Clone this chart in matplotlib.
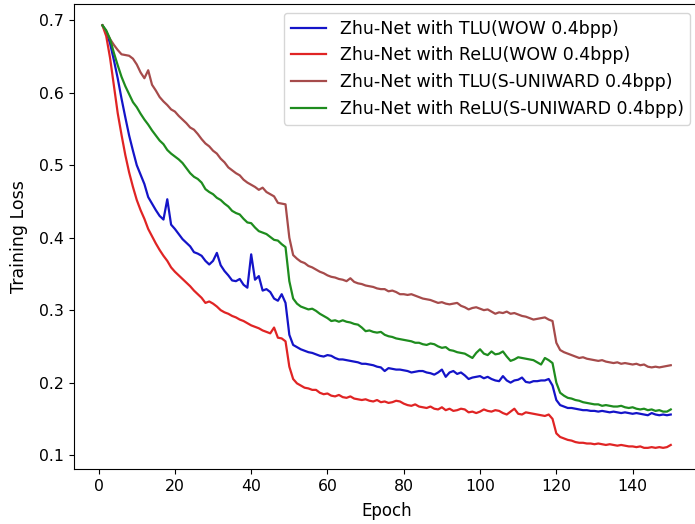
import matplotlib
matplotlib.use("Agg")
import matplotlib.pyplot as plt
import numpy as np

# training loss per epoch
epochs = np.arange(1, 151)

tlu_wow = [
    0.693, 0.684, 0.668, 0.645, 0.620, 0.592, 0.566, 0.541, 0.520, 0.500,
    0.487, 0.474, 0.456, 0.447, 0.438, 0.430, 0.425, 0.453, 0.418, 0.412,
    0.405, 0.398, 0.393, 0.388, 0.380, 0.378, 0.375, 0.368, 0.363, 0.368,
    0.379, 0.362, 0.354, 0.348, 0.341, 0.340, 0.343, 0.335, 0.331, 0.377,
    0.342, 0.347, 0.327, 0.329, 0.325, 0.316, 0.313, 0.322, 0.310, 0.266,
    0.252, 0.249, 0.246, 0.244, 0.242, 0.241, 0.239, 0.237, 0.236, 0.238,
    0.237, 0.234, 0.232, 0.232, 0.231, 0.230, 0.229, 0.228, 0.226, 0.226,
    0.225, 0.224, 0.222, 0.221, 0.216, 0.220, 0.219, 0.218, 0.218, 0.217,
    0.216, 0.214, 0.215, 0.216, 0.216, 0.214, 0.213, 0.211, 0.214, 0.218,
    0.208, 0.214, 0.216, 0.212, 0.214, 0.210, 0.205, 0.207, 0.208, 0.209,
    0.206, 0.208, 0.205, 0.203, 0.202, 0.209, 0.203, 0.200, 0.203, 0.204,
    0.207, 0.201, 0.200, 0.202, 0.202, 0.203, 0.203, 0.205, 0.196, 0.176,
    0.169, 0.167, 0.165, 0.165, 0.164, 0.163, 0.162, 0.162, 0.161, 0.161,
    0.160, 0.161, 0.160, 0.159, 0.160, 0.159, 0.158, 0.159, 0.158, 0.157,
    0.158, 0.157, 0.156, 0.155, 0.158, 0.156, 0.155, 0.156, 0.155, 0.156,
]

relu_wow = [
    0.693, 0.678, 0.648, 0.610, 0.572, 0.542, 0.514, 0.490, 0.470, 0.452,
    0.438, 0.426, 0.412, 0.402, 0.392, 0.383, 0.375, 0.368, 0.359, 0.353,
    0.348, 0.343, 0.338, 0.333, 0.327, 0.322, 0.317, 0.310, 0.312, 0.309,
    0.305, 0.300, 0.297, 0.295, 0.292, 0.290, 0.287, 0.285, 0.282, 0.279,
    0.277, 0.275, 0.272, 0.270, 0.268, 0.276, 0.262, 0.261, 0.257, 0.222,
    0.205, 0.199, 0.196, 0.193, 0.192, 0.190, 0.190, 0.186, 0.184, 0.185,
    0.182, 0.181, 0.183, 0.180, 0.179, 0.181, 0.178, 0.177, 0.176, 0.177,
    0.175, 0.174, 0.176, 0.173, 0.174, 0.172, 0.173, 0.175, 0.174, 0.171,
    0.169, 0.168, 0.170, 0.167, 0.166, 0.165, 0.167, 0.164, 0.163, 0.166,
    0.162, 0.164, 0.161, 0.162, 0.164, 0.163, 0.159, 0.160, 0.158, 0.160,
    0.163, 0.161, 0.160, 0.162, 0.161, 0.158, 0.156, 0.160, 0.164, 0.157,
    0.156, 0.159, 0.158, 0.157, 0.156, 0.155, 0.154, 0.156, 0.150, 0.130,
    0.125, 0.123, 0.121, 0.120, 0.118, 0.117, 0.117, 0.116, 0.116, 0.115,
    0.116, 0.115, 0.114, 0.115, 0.114, 0.113, 0.114, 0.113, 0.112, 0.112,
    0.111, 0.112, 0.110, 0.110, 0.111, 0.110, 0.111, 0.110, 0.111, 0.114,
]

tlu_suni = [
    0.693, 0.684, 0.674, 0.666, 0.659, 0.653, 0.652, 0.651, 0.647, 0.639,
    0.628, 0.620, 0.631, 0.611, 0.603, 0.594, 0.588, 0.583, 0.577, 0.574,
    0.568, 0.563, 0.558, 0.552, 0.549, 0.543, 0.536, 0.530, 0.526, 0.520,
    0.516, 0.509, 0.504, 0.497, 0.493, 0.489, 0.486, 0.480, 0.476, 0.473,
    0.470, 0.466, 0.469, 0.463, 0.460, 0.457, 0.448, 0.447, 0.446, 0.400,
    0.376, 0.371, 0.367, 0.365, 0.361, 0.359, 0.356, 0.353, 0.351, 0.348,
    0.346, 0.345, 0.343, 0.342, 0.340, 0.344, 0.339, 0.337, 0.336, 0.334,
    0.333, 0.332, 0.330, 0.329, 0.329, 0.326, 0.327, 0.325, 0.322, 0.322,
    0.321, 0.322, 0.320, 0.318, 0.316, 0.315, 0.314, 0.312, 0.310, 0.311,
    0.309, 0.308, 0.309, 0.310, 0.306, 0.304, 0.301, 0.303, 0.304, 0.302,
    0.300, 0.301, 0.298, 0.295, 0.297, 0.296, 0.298, 0.295, 0.296, 0.294,
    0.292, 0.291, 0.289, 0.287, 0.288, 0.289, 0.290, 0.287, 0.285, 0.255,
    0.245, 0.242, 0.240, 0.238, 0.236, 0.234, 0.235, 0.233, 0.232, 0.231,
    0.230, 0.231, 0.229, 0.228, 0.227, 0.228, 0.226, 0.227, 0.226, 0.225,
    0.226, 0.224, 0.225, 0.222, 0.221, 0.222, 0.221, 0.222, 0.223, 0.224,
]

relu_suni = [
    0.693, 0.686, 0.674, 0.655, 0.638, 0.622, 0.609, 0.598, 0.587, 0.580,
    0.571, 0.563, 0.556, 0.548, 0.541, 0.534, 0.529, 0.521, 0.516, 0.512,
    0.508, 0.503, 0.496, 0.489, 0.484, 0.481, 0.476, 0.467, 0.463, 0.460,
    0.455, 0.452, 0.447, 0.443, 0.437, 0.434, 0.432, 0.426, 0.421, 0.420,
    0.414, 0.409, 0.407, 0.405, 0.401, 0.397, 0.396, 0.391, 0.387, 0.340,
    0.316, 0.309, 0.305, 0.303, 0.301, 0.302, 0.299, 0.295, 0.292, 0.289,
    0.285, 0.286, 0.284, 0.286, 0.284, 0.283, 0.281, 0.280, 0.276, 0.271,
    0.272, 0.270, 0.269, 0.270, 0.266, 0.264, 0.263, 0.261, 0.260, 0.259,
    0.258, 0.257, 0.255, 0.255, 0.253, 0.252, 0.254, 0.253, 0.250, 0.248,
    0.249, 0.245, 0.244, 0.242, 0.241, 0.240, 0.237, 0.234, 0.241, 0.246,
    0.240, 0.238, 0.243, 0.239, 0.240, 0.243, 0.236, 0.230, 0.232, 0.235,
    0.234, 0.233, 0.232, 0.231, 0.228, 0.225, 0.234, 0.231, 0.227, 0.200,
    0.186, 0.182, 0.179, 0.178, 0.176, 0.175, 0.173, 0.172, 0.171, 0.170,
    0.170, 0.168, 0.169, 0.168, 0.167, 0.167, 0.168, 0.166, 0.165, 0.166,
    0.164, 0.163, 0.164, 0.162, 0.163, 0.161, 0.162, 0.160, 0.160, 0.163,
]

labels = [
    "Zhu-Net with TLU(WOW 0.4bpp)",
    "Zhu-Net with ReLU(WOW 0.4bpp)",
    "Zhu-Net with TLU(S-UNIWARD 0.4bpp)",
    "Zhu-Net with ReLU(S-UNIWARD 0.4bpp)",
]
colors = ["#1414c8", "#e02424", "#a64b4b", "#1e8c1e"]

fig = plt.figure(figsize=(6.95, 5.24), dpi=100)
# axes run slightly past the right edge, like the cropped original
ax = fig.add_axes([0.1065, 0.105, 0.8995, 0.887])

for y, lab, c in zip([tlu_wow, relu_wow, tlu_suni, relu_suni], labels, colors):
    ax.plot(epochs, y, color=c, lw=1.6, label=lab)

ax.set_xticks(np.arange(0, 141, 20))
ax.set_yticks([0.1, 0.2, 0.3, 0.4, 0.5, 0.6, 0.7])
ax.tick_params(labelsize=11.3)
ax.set_xlabel("Epoch", fontsize=12, labelpad=6)
ax.set_ylabel("Training Loss", fontsize=12.5, labelpad=8)
ax.legend(loc="upper right", fontsize=12.5)

fig.savefig("out.png", dpi=100)
